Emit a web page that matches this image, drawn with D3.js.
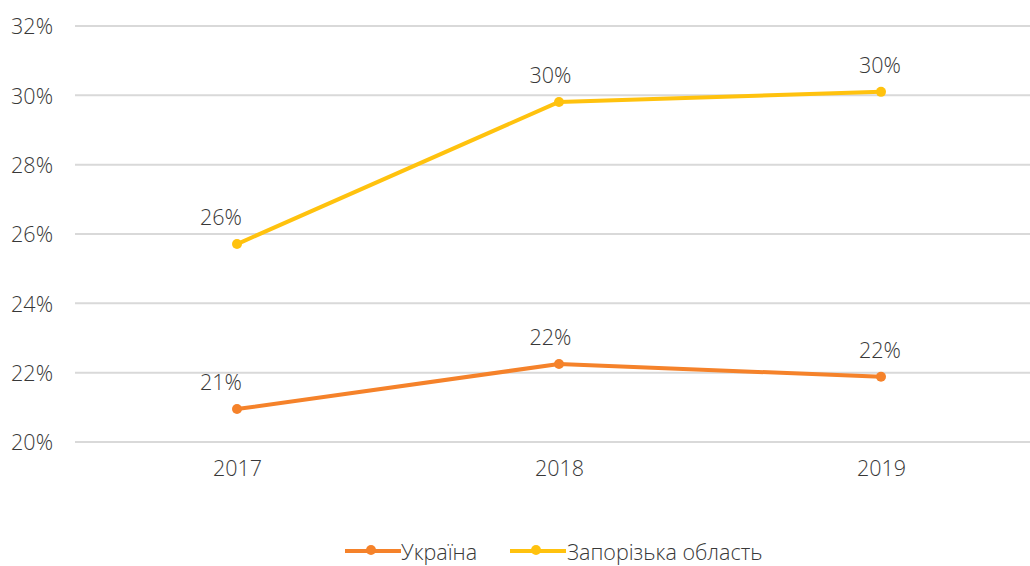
<!DOCTYPE html>
<html><head><meta charset="utf-8">
<script src="https://cdn.jsdelivr.net/npm/d3@7"></script>
<style>html,body{margin:0;padding:0;background:#fff;overflow:hidden}svg{display:block}</style>
</head><body><svg id="c" width="1030" height="566"></svg>
<script>
const years = ["2017", "2018", "2019"];
const ukraine = [20.95, 22.25, 21.88];
const zaporizhzhia = [25.71, 29.81, 30.1];
const yTicks = [20, 22, 24, 26, 28, 30, 32];
const seriesNames = ["Україна", "Запорізька область"];
const colors = ["#F5822A", "#FFC20E"];

const svg = d3.select("#c");
const font = "'Open Sans', sans-serif";
const fs = 21.5;
const tc = "#383838";
const x = d3.scalePoint().domain(years).range([237, 881]);
const y = d3.scaleLinear().domain([20, 32]).range([442, 26]);

// grid
svg.append("g").selectAll("line").data(yTicks).join("line")
  .attr("x1", 75).attr("x2", 1030)
  .attr("y1", d => y(d)).attr("y2", d => y(d))
  .attr("stroke", "#D9D9D9").attr("stroke-width", 2);

// y axis labels
const yAxis = svg.append("g").attr("transform", "translate(53,0)")
  .call(d3.axisLeft(y).tickValues(yTicks).tickFormat(d => d + "%").tickSize(0).tickPadding(0));
yAxis.select(".domain").remove();
yAxis.selectAll("text").attr("font-family", font).attr("font-size", fs).attr("font-weight", 300).attr("fill", tc).attr("dy", "0.36em");

// x axis labels
const xAxis = svg.append("g").attr("transform", "translate(0,461)")
  .call(d3.axisBottom(x).tickSize(0).tickPadding(0));
xAxis.select(".domain").remove();
xAxis.selectAll("text").attr("font-family", font).attr("font-size", fs).attr("font-weight", 300).attr("fill", tc).attr("dy", "0.71em");

const series = [ukraine, zaporizhzhia];
const line = d3.line().x((d, i) => x(years[i])).y(d => y(d));
series.forEach((s, k) => {
  svg.append("path").datum(s).attr("d", line).attr("fill", "none")
    .attr("stroke", colors[k]).attr("stroke-width", 4).attr("stroke-linejoin", "round");
  svg.append("g").selectAll("circle").data(s).join("circle")
    .attr("cx", (d, i) => x(years[i])).attr("cy", d => y(d)).attr("r", 5).attr("fill", colors[k]);
  svg.append("g").selectAll("text").data(s).join("text")
    .attr("x", (d, i) => x(years[i]) - 16 + i * 7.5).attr("y", d => y(d) - 27)
    .attr("text-anchor", "middle").attr("font-family", font).attr("font-size", fs).attr("font-weight", 300)
    .attr("fill", tc).attr("dy", "0.36em")
    .text(d => Math.round(d) + "%");
});

// legend
const leg = [{x0: 345, tx: 401}, {x0: 510, tx: 567}];
const ly = 551;
seriesNames.forEach((n, k) => {
  const g = svg.append("g");
  g.append("line").attr("x1", leg[k].x0).attr("x2", leg[k].x0 + 56).attr("y1", ly).attr("y2", ly)
    .attr("stroke", colors[k]).attr("stroke-width", 4);
  g.append("circle").attr("cx", leg[k].x0 + 26).attr("cy", ly - 1).attr("r", 5).attr("fill", colors[k]);
  g.append("text").attr("x", leg[k].tx).attr("y", ly + 1).attr("dy", "0.36em")
    .attr("font-family", font).attr("font-size", fs).attr("font-weight", 300).attr("fill", tc).text(n);
});
</script></body></html>
